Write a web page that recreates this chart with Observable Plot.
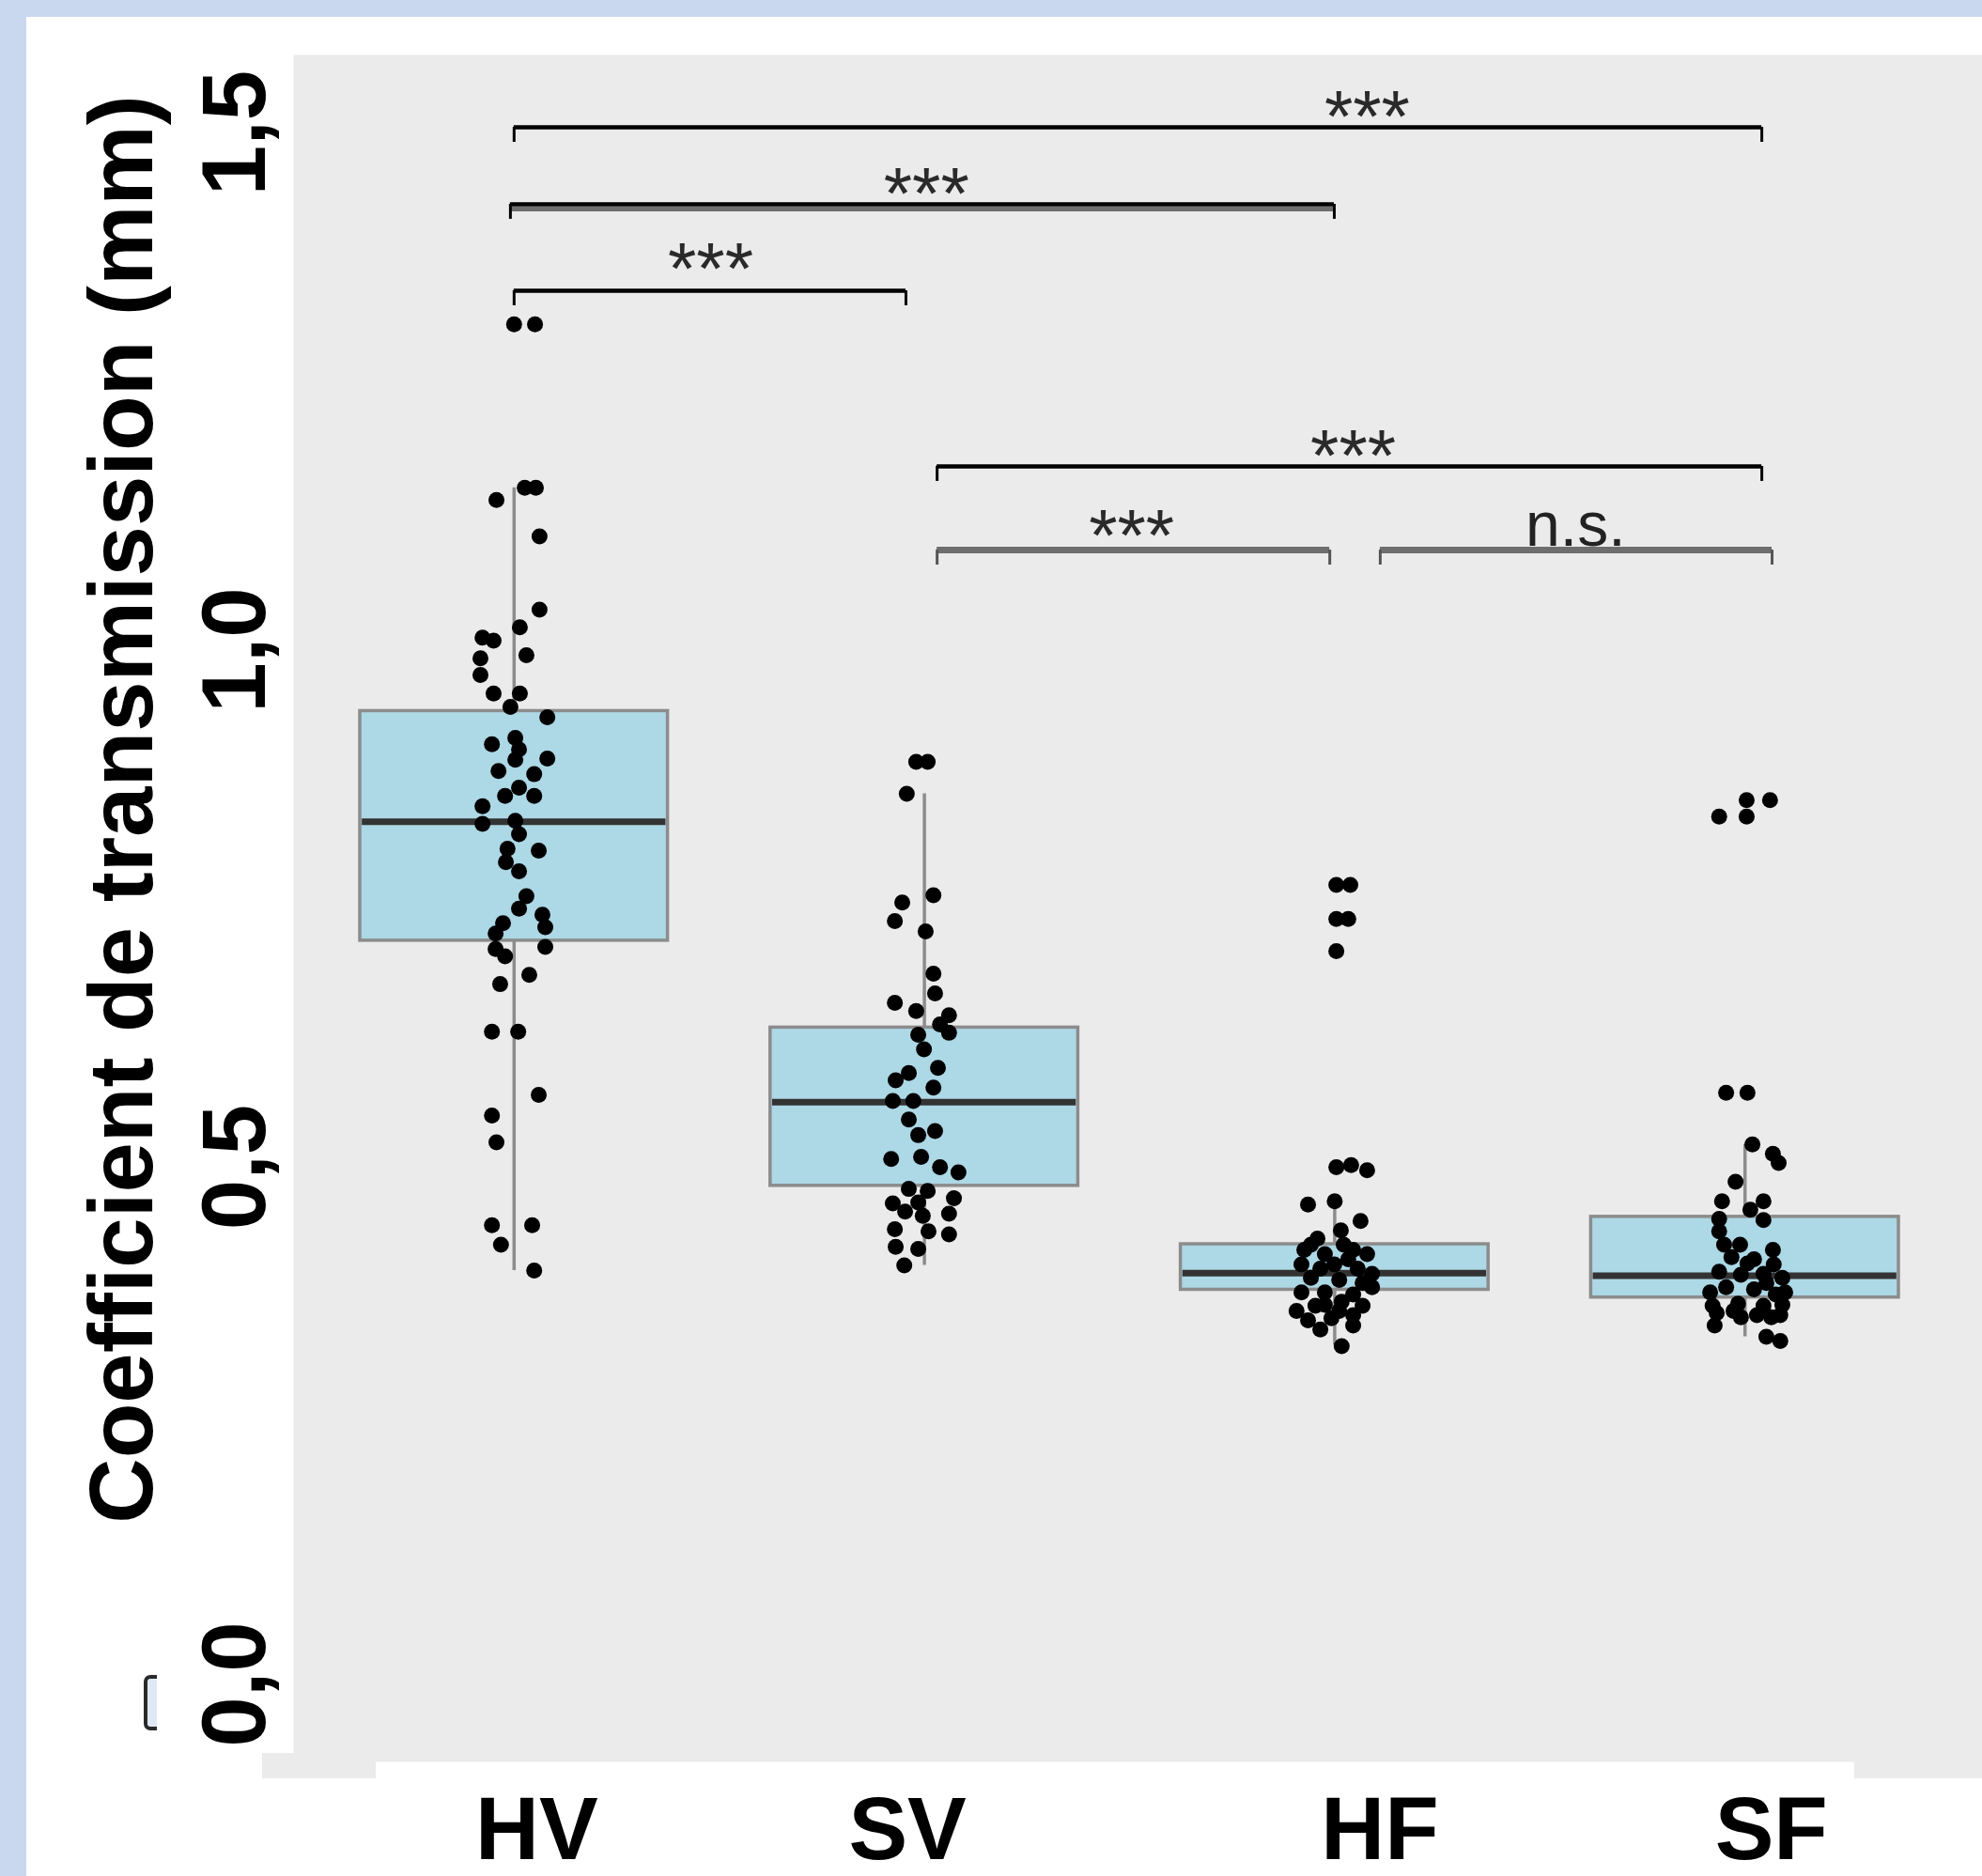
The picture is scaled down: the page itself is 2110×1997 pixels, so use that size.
<!DOCTYPE html>
<html>
<head>
<meta charset="utf-8">
<script src="https://cdn.jsdelivr.net/npm/d3@7"></script>
<script src="https://cdn.jsdelivr.net/npm/@observablehq/plot@0.6"></script>
<style>
  html, body { margin: 0; padding: 0; overflow: hidden; background: #cad8ef; }
  #page { position: relative; width: 2110px; height: 1997px; }
  #panel { position: absolute; left: 28px; top: 18px; right: 0; bottom: 0; background: #ffffff; }
  .patch { position: absolute; background: #ebebeb; }
  #stray { position: absolute; left: 153px; top: 1783px; width: 10px; height: 51px;
           border: 4px solid #2a2a2a; border-right: none; border-radius: 7px 0 0 7px; background: #dfe9f6; }
  #chart { position: absolute; left: 0; top: 0; }
</style>
</head>
<body>
<div id="page">
  <div id="panel"></div>
  <div class="patch" style="left:279px;top:1866px;width:121px;height:27px"></div>
  <div class="patch" style="left:1974px;top:1870px;width:136px;height:23px"></div>
  <div id="stray"></div>
  <div id="chart"></div>
</div>
<script>
// ---------- data ----------
const categories = ["HV", "SV", "HF", "SF"];
const yTicks = [0, 0.5, 1.0, 1.5];
const yTickLabels = ["0,0", "0,5", "1,0", "1,5"];
const yTitle = "Coefficient de transmission (mm)";

// box summaries (per category)
const q1          = [0.719, 0.482, 0.3815, 0.374];
const median      = [0.834, 0.563, 0.3977, 0.395];
const q3          = [0.941, 0.635, 0.4255, 0.452];
const whiskerLow  = [0.400, 0.405, 0.328, 0.336];
const whiskerHigh = [1.157, 0.861, 0.467, 0.522];

// jittered observations (value, horizontal jitter in category units)
const hvValues = [1.315, 1.315, 1.157, 1.157, 1.145, 1.110, 1.039, 1.022, 1.012, 1.009, 0.992, 0.976, 0.995, 0.958, 0.958, 0.945, 0.935, 0.909, 0.915, 0.904, 0.895, 0.894, 0.883, 0.880, 0.867, 0.859, 0.859, 0.849, 0.832, 0.835, 0.822, 0.808, 0.806, 0.795, 0.786, 0.762, 0.750, 0.744, 0.736, 0.726, 0.732, 0.713, 0.711, 0.704, 0.686, 0.677, 0.631, 0.631, 0.570, 0.550, 0.524, 0.444, 0.444, 0.425, 0.400];
const hvJitter = [0.000, 0.051, 0.026, 0.053, -0.043, 0.062, 0.062, 0.014, -0.077, -0.050, -0.082, -0.082, 0.030, -0.050, 0.014, -0.009, 0.081, -0.054, 0.003, 0.012, 0.081, 0.003, -0.038, 0.049, 0.012, -0.022, 0.049, -0.077, -0.077, 0.003, 0.012, -0.016, 0.060, -0.020, 0.012, 0.030, 0.012, 0.069, -0.027, -0.045, 0.076, 0.076, -0.045, -0.022, 0.037, -0.034, -0.054, 0.010, 0.060, -0.054, -0.043, -0.054, 0.044, -0.032, 0.049];

const svValues = [0.892, 0.892, 0.861, 0.763, 0.756, 0.738, 0.728, 0.687, 0.668, 0.659, 0.651, 0.647, 0.638, 0.628, 0.630, 0.614, 0.596, 0.591, 0.584, 0.577, 0.564, 0.564, 0.546, 0.535, 0.531, 0.508, 0.510, 0.500, 0.495, 0.479, 0.477, 0.465, 0.466, 0.470, 0.457, 0.453, 0.455, 0.440, 0.438, 0.435, 0.423, 0.421, 0.405];
const svJitter = [-0.020, 0.008, -0.043, 0.022, -0.054, -0.072, 0.003, 0.022, 0.026, -0.072, -0.020, 0.060, 0.038, -0.015, 0.060, -0.001, 0.033, -0.038, -0.070, 0.022, -0.077, -0.027, -0.038, 0.026, -0.015, -0.081, -0.008, 0.038, 0.083, -0.038, 0.008, -0.077, -0.015, 0.072, -0.047, -0.004, 0.060, -0.072, 0.010, 0.060, -0.070, -0.015, -0.049];

const hfValues = [0.773, 0.773, 0.740, 0.740, 0.709, 0.500, 0.502, 0.497, 0.464, 0.467, 0.448, 0.439, 0.431, 0.425, 0.416, 0.420, 0.416, 0.406, 0.406, 0.402, 0.397, 0.393, 0.391, 0.388, 0.379, 0.379, 0.377, 0.366, 0.361, 0.366, 0.352, 0.354, 0.357, 0.327, 0.420, 0.425, 0.402, 0.411, 0.384, 0.361, 0.367, 0.347, 0.343, 0.370];
const hfJitter = [0.004, 0.038, 0.004, 0.033, 0.004, 0.004, 0.040, 0.079, -0.065, 0.000, 0.063, 0.015, -0.042, -0.058, -0.024, 0.045, 0.079, -0.081, -0.001, 0.056, 0.091, -0.058, 0.011, 0.068, -0.081, -0.024, 0.045, -0.047, 0.011, 0.068, -0.065, -0.008, 0.045, 0.017, -0.074, 0.022, -0.035, 0.033, 0.091, -0.093, -0.024, 0.045, -0.035, 0.017];

const sfValues = [0.855, 0.855, 0.839, 0.839, 0.572, 0.572, 0.522, 0.513, 0.504, 0.486, 0.467, 0.467, 0.459, 0.450, 0.449, 0.438, 0.425, 0.420, 0.413, 0.411, 0.406, 0.399, 0.396, 0.397, 0.393, 0.384, 0.382, 0.377, 0.366, 0.368, 0.366, 0.367, 0.359, 0.355, 0.355, 0.336, 0.332, 0.379, 0.361, 0.357, 0.379, 0.407, 0.425, 0.388, 0.357, 0.347];
const sfJitter = [0.004, 0.061, -0.063, 0.004, -0.046, 0.006, 0.018, 0.068, 0.082, -0.023, -0.056, 0.045, 0.013, -0.063, 0.045, -0.063, -0.012, 0.068, -0.033, 0.022, 0.070, -0.063, -0.010, 0.045, 0.091, -0.046, 0.022, 0.075, -0.079, -0.017, 0.045, 0.091, -0.069, -0.010, 0.064, 0.052, 0.086, -0.085, -0.028, 0.029, 0.098, 0.006, -0.051, 0.052, 0.086, -0.074];

// significance brackets (x in category-index units, y in mm)
const bracketFrom  = [1.000, 0.991, 1.000, 2.031, 2.031, 3.111];
const bracketTo    = [4.041, 2.999, 1.955, 4.041, 2.988, 4.066];
const bracketY     = [1.5054, 1.4310, 1.3474, 1.1776, 1.0967, 1.0967];
const bracketLabel = ["***", "***", "***", "***", "***", "n.s."];
const labelX       = [3.079, 2.005, 1.479, 3.045, 2.505, 3.587];
const labelY       = [1.5245, 1.450, 1.3765, 1.1966, 1.119, 1.1167];

// ---------- build tables ----------
const allValues = [hvValues, svValues, hfValues, sfValues];
const allJitter = [hvJitter, svJitter, hfJitter, sfJitter];
const points = categories.flatMap((c, i) =>
  allValues[i].map((v, k) => ({group: c, pos: i + 1 + allJitter[i][k], value: v})));
const boxes = categories.map((c, i) => ({
  group: c, pos: i + 1, q1: q1[i], median: median[i], q3: q3[i],
  lo: whiskerLow[i], hi: whiskerHigh[i]
}));
const brackets = bracketLabel.map((label, i) => ({
  i, label, x1: bracketFrom[i], x2: bracketTo[i], y: bracketY[i], lx: labelX[i], ly: labelY[i]
}));

// ---------- styling ----------
const FONT = "'Liberation Sans', Arial, Helvetica, sans-serif";
const half = 0.375;
const tickLen = 0.0145;
const grayIdx = new Set([4, 5]);
const darkBr = brackets.filter(b => !grayIdx.has(b.i));
const grayBr = brackets.filter(b => grayIdx.has(b.i));
const ends = arr => arr.flatMap(b => [
  {x: b.x1, y1: b.y - tickLen, y2: b.y},
  {x: b.x2, y1: b.y - tickLen, y2: b.y}
]);
const xLabelNudge = [24, -18, 48, 28];

const chart = Plot.plot({
  width: 2110,
  height: 1997,
  marginLeft: 312,
  marginTop: 58,
  marginRight: 0,
  marginBottom: 122,
  x: {domain: [0.5, 4.5], range: [328.4, 2075.6], axis: null},
  y: {domain: [0, 1.5], range: [1792.5, 141], axis: null},
  style: {background: "transparent", fontFamily: FONT, overflow: "visible"},
  marks: [
    Plot.frame({fill: "#ebebeb", stroke: "none"}),
    // whiskers
    Plot.ruleX(boxes, {x: "pos", y1: "lo", y2: "hi", stroke: "#8c8c8c", strokeWidth: 3.5}),
    // boxes
    Plot.rect(boxes, {x1: d => d.pos - half, x2: d => d.pos + half, y1: "q1", y2: "q3",
      fill: "#add8e6", stroke: "#8c8c8c", strokeWidth: 3.5}),
    // medians
    Plot.ruleY(boxes, {y: "median", x1: d => d.pos - half + 0.005, x2: d => d.pos + half - 0.005,
      stroke: "#333333", strokeWidth: 7}),
    // jittered points
    Plot.dot(points, {x: "pos", y: "value", r: 8.5, fill: "black", stroke: "none"}),
    // brackets
    Plot.ruleY(brackets.filter(b => b.i === 1), {y: "y", x1: "x1", x2: "x2", dy: 5,
      stroke: "#6e6e6e", strokeWidth: 5}),
    Plot.ruleY(darkBr, {y: "y", x1: "x1", x2: "x2", stroke: "black", strokeWidth: 4.5}),
    Plot.ruleY(grayBr, {y: "y", x1: "x1", x2: "x2", stroke: "#6e6e6e", strokeWidth: 7}),
    Plot.ruleX(ends(darkBr), {x: "x", y1: "y1", y2: "y2", stroke: "black", strokeWidth: 3}),
    Plot.ruleX(ends(grayBr), {x: "x", y1: "y1", y2: "y2", stroke: "#555555", strokeWidth: 3}),
    // significance labels
    Plot.text(brackets.filter(b => b.label === "***"), {x: "lx", y: "ly", text: "label",
      fontSize: 78, lineAnchor: "bottom", dy: 36, fill: "#2a2a2a"}),
    Plot.text(brackets.filter(b => b.label !== "***"), {x: "lx", y: "ly", text: "label",
      fontSize: 66, lineAnchor: "bottom", dy: 17, fill: "#222222"}),
    // y tick labels
    Plot.text(yTicks, {y: d => d, text: (d, i) => yTickLabels[i], frameAnchor: "left", dx: -31,
      rotate: -90, textAnchor: "middle", lineAnchor: "bottom",
      fontSize: 96, fontWeight: "bold", fill: "black"}),
    // y title
    Plot.text([yTitle], {frameAnchor: "left", dx: -151, dy: -105.5, rotate: -90,
      textAnchor: "middle", lineAnchor: "bottom", fontSize: 96, fontWeight: "bold", fill: "black"}),
    // x tick labels
    ...categories.map((c, i) => Plot.text([c], {x: () => i + 1, text: d => d,
      frameAnchor: "bottom", dy: 103, dx: xLabelNudge[i], lineAnchor: "bottom",
      fontSize: 94, fontWeight: "bold", fill: "black"}))
  ]
});
document.getElementById("chart").appendChild(chart);
</script>
</body>
</html>
